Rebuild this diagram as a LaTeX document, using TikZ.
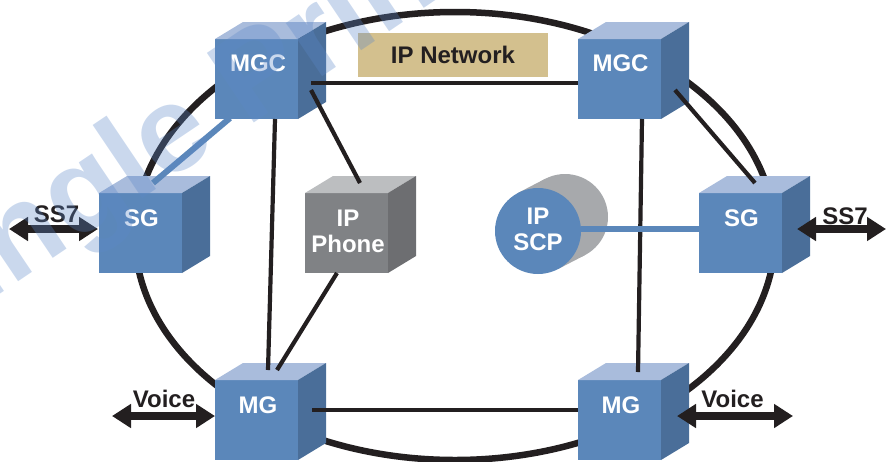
\documentclass[tikz,border=0pt]{standalone}
\usepackage{fontspec}
\setmainfont{Liberation Sans}
\usetikzlibrary{arrows.meta,calc}
\definecolor{cubefront}{HTML}{5B87BA}
\definecolor{cubetop}{HTML}{A9BCDC}
\definecolor{cuberight}{HTML}{4A6E99}
\definecolor{grayfront}{HTML}{808285}
\definecolor{graytop}{HTML}{BCBEC0}
\definecolor{grayright}{HTML}{6D6E71}
\definecolor{scpback}{HTML}{A7A9AC}
\definecolor{ink}{HTML}{231F20}
\definecolor{tanbox}{HTML}{D3C08E}
\definecolor{wmblue}{HTML}{5B87C8}
\newcommand\cubefaces[3]{%
  \fill[#2] (#1.north west) -- ++(28,-17) -- ++(83,0) -- (#1.north east) -- cycle;
  \fill[#3] (#1.north east) -- ++(28,-17) -- ++(0,80) -- (#1.south east) -- cycle;}
\begin{document}
\begin{tikzpicture}[x=1pt,y=-1pt,
  cubenode/.style={rectangle, minimum width=83pt, minimum height=80pt, inner sep=0pt, outer sep=0pt},
  lbl/.style={font=\bfseries\fontsize{24}{26}\selectfont, align=center, inner sep=0pt, text=ink},
  wlbl/.style={lbl, text=white},
  link/.style={draw=ink, line width=4.2pt},
  bluelink/.style={draw=cubefront, line width=6pt},
  bigarrow/.style={draw=ink, line width=7.5pt, {Triangle[length=19pt,width=23pt]}-{Triangle[length=19pt,width=23pt]}},
]
\useasboundingbox (0,0) rectangle (890,461);
% ring
\draw[ink, line width=6.5pt] (455,236) ellipse [x radius=320, y radius=224];
% IP network label
\node[lbl, rectangle, fill=tanbox, minimum width=190pt, minimum height=44pt] (ipnet) at (453,55) {IP Network};
% cubes
\node[cubenode, fill=cubefront] (mgcL) at (256.5,79) {};
\cubefaces{mgcL}{cubetop}{cuberight}
\node[cubenode, fill=cubefront] (sgL) at (140.5,233) {};
\cubefaces{sgL}{cubetop}{cuberight}
\node[cubenode, fill=grayfront] (phone) at (346.5,233) {};
\cubefaces{phone}{graytop}{grayright}
\node[cubenode, fill=cubefront] (mgcR) at (619.5,79) {};
\cubefaces{mgcR}{cubetop}{cuberight}
\node[cubenode, fill=cubefront] (sgR) at (740.5,233) {};
\cubefaces{sgR}{cubetop}{cuberight}
\node[cubenode, fill=cubefront] (mgL) at (256.5,420) {};
\cubefaces{mgL}{cubetop}{cuberight}
\node[cubenode, fill=cubefront] (mgR) at (619.5,420) {};
\cubefaces{mgR}{cubetop}{cuberight}
% IP SCP cylinder
\coordinate (scpc) at (538,231);
\fill[scpback] ($(scpc)+(27,-14)$) circle [radius=43];
\fill[scpback] ($(scpc)+(19.8,38.2)$) -- ($(scpc)+(46.8,24.2)$) -- ($(scpc)+(7.2,-52.2)$) -- ($(scpc)+(-19.8,-38.2)$) -- cycle;
\node[circle, fill=cubefront, minimum size=86pt, inner sep=0pt, outer sep=0pt] (scp) at (scpc) {};
% connectors
\draw[link] ($(mgcL.east)+(13,4)$) -- ($(mgcR.west)+(0,4)$);
\draw[link] ($(mgcL.east)+(13,11)$) -- ($(phone.north)+(13.5,-10)$);
\draw[link] ($(mgcL.south)+(18.5,0)$) -- ($(mgL.north)+(11.5,-10)$);
\draw[link] ($(phone.south)+(-9.5,0)$) -- ($(mgL.north)+(20.5,-10)$);
\draw[link] ($(mgL.east)+(14,-10)$) -- ($(mgR.west)+(0,-10)$);
\draw[link] ($(mgcR.south)+(22.5,0)$) -- ($(mgR.north)+(18.5,-8)$);
\draw[link] ($(mgcR.east)+(14,11)$) -- ($(sgR.north)+(14.5,-10)$);
\draw[bluelink] ($(mgcL.south)+(-26.5,-1)$) -- ($(sgL.north)+(12.5,-10)$);
\draw[bluelink] ($(scp.east)+(0,-2)$) -- ($(sgR.west)+(0,-4)$);
% cube labels
\node[wlbl] (mgcLt) at (258,63.5) {MGC};
\node[wlbl] (mgcRt) at (620.5,63.5) {MGC};
\node[wlbl] (sgLt) at (141.5,218) {SG};
\node[wlbl] (sgRt) at (741.5,218) {SG};
\node[wlbl] (phonet) at (348,231) {IP\\Phone};
\node[wlbl] (scpt) at (538,229.5) {IP\\SCP};
\node[wlbl] (mgLt) at (258,405) {MG};
\node[wlbl] (mgRt) at (621,405) {MG};
% external arrows
\coordinate (ss7La) at (9,229);
\draw[bigarrow] (ss7La) -- ($(sgL.west)+(-1,-4)$);
\node[lbl] (ss7Lt) at (56.5,214) {SS7};
\coordinate (ss7Rb) at (886,229);
\draw[bigarrow] ($(sgR.east)+(15,-4)$) -- (ss7Rb);
\node[lbl] (ss7Rt) at (845,216) {SS7};
\coordinate (vLa) at (112,416);
\draw[bigarrow] (vLa) -- ($(mgL.west)+(0,-4)$);
\node[lbl] (vLt) at (164,399) {Voice};
\coordinate (vRb) at (793,416);
\draw[bigarrow] ($(mgR.east)+(16,-4)$) -- (vRb);
\node[lbl] (vRt) at (732.5,399) {Voice};
% watermark
\begin{scope}
\clip (0,0) rectangle (890,461);
\node[rotate=34, anchor=base west, text=wmblue, opacity=0.32, font=\bfseries\fontsize{122}{126}\selectfont, inner sep=0pt] (wm) at (-84,351) {Single Print};
\end{scope}
\end{tikzpicture}
\end{document}
